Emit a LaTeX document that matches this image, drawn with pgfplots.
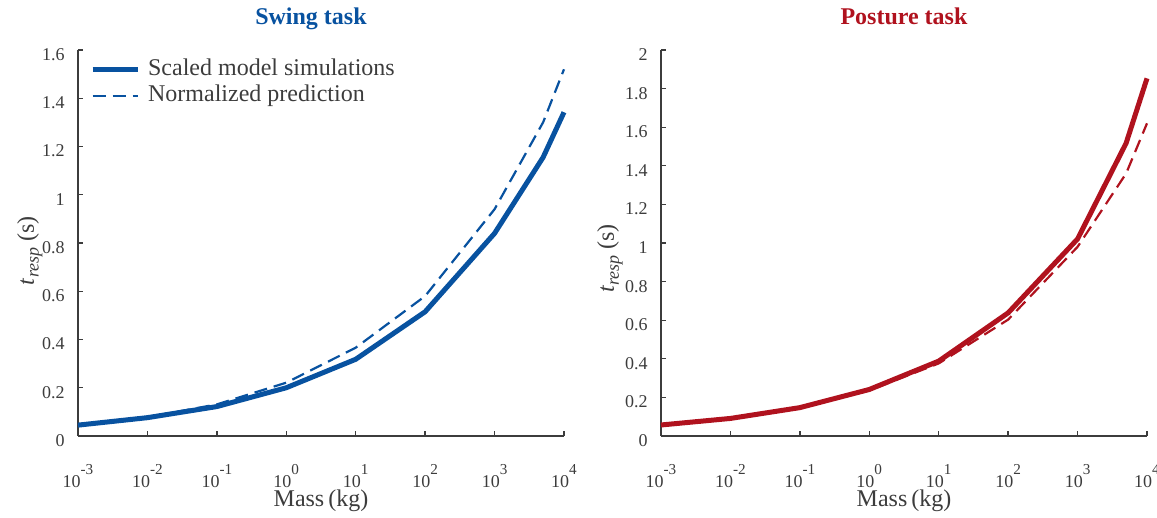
\documentclass[border=0pt]{standalone}
\usepackage{pgfplots}
\pgfplotsset{compat=1.18}
\usepackage{fontspec}
\setmainfont{Liberation Serif}

\definecolor{swingblue}{RGB}{8,82,160}
\definecolor{posturered}{RGB}{176,18,30}
\definecolor{axisgray}{RGB}{60,60,60}

% decade tick label: 10 with a raised exponent
\newcommand{\dec}[1]{10\raisebox{6.3pt}{\fontsize{7.6}{7.6}\selectfont #1}}
% response time label
\newcommand{\tresp}{\textit{t}\raisebox{-2.4pt}{\fontsize{9}{9}\selectfont\textit{resp}} (s)}

\begin{document}
\begin{tikzpicture}
\useasboundingbox (-39pt,-41pt) rectangle (539.5pt,218pt);

% Swing task
\begin{axis}[
  scale only axis, width=243pt, height=193pt,
  xmode=log, xmin=1e-3, xmax=1e4, ymin=0, ymax=1.6,
  clip=false,
  axis x line*=bottom, axis y line*=left,
  axis line style={axisgray, line width=0.65pt},
  tick style={axisgray, line width=0.65pt},
  tick align=inside, major tick length=2.5pt,
  xminorticks=false,
  xtick={1e-3,1e-2,1e-1,1,1e1,1e2,1e3,1e4},
  xticklabels={\dec{-3},\dec{-2},\dec{-1},\dec{0},\dec{1},\dec{2},\dec{3},\dec{4}},
  ytick={0,0.2,0.4,0.6,0.8,1,1.2,1.4,1.6},
  xticklabel style={anchor=north, inner sep=0pt, yshift=-14pt,
    font=\fontsize{9}{9}\selectfont, text=axisgray},
  yticklabel style={anchor=east, inner sep=0pt, xshift=-6.5pt, yshift=-2.3pt,
    font=\fontsize{9}{9}\selectfont, text=axisgray,
    /pgf/number format/assume math mode=true},
  xlabel={Mass\,(kg)},
  ylabel={\tresp},
  xlabel style={at={(axis description cs:0.5,0)}, anchor=base, yshift=-35.5pt,
    font=\fontsize{12}{12}\selectfont, text=axisgray},
  ylabel style={at={(axis description cs:-0.099,0.48)}, anchor=center,
    font=\fontsize{12}{12}\selectfont, text=axisgray},
  title={Swing task},
  title style={at={(axis description cs:0.5,1)}, anchor=base, yshift=6.5pt,
    xshift=-5pt, font=\bfseries\fontsize{12}{12}\selectfont, text=swingblue},
  legend style={draw=none, fill=none, at={(axis description cs:0.025,0.98)},
    anchor=north west, font=\fontsize{12}{12}\selectfont, text=axisgray,
    inner sep=0pt, outer sep=0pt, row sep=1pt, column sep=4pt,
    nodes={inner sep=0pt, text height=9pt, text depth=3pt}},
  legend cell align=left,
  legend image code/.code={\draw[#1] (0pt,0pt) -- (22.5pt,0pt);},
]
\addplot[line width=2.5pt, swingblue] coordinates {
  (1e-3,0.045) (1e-2,0.076) (1e-1,0.122) (1,0.200) (1e1,0.318)
  (1e2,0.515) (1e3,0.840) (5e3,1.155) (1e4,1.342)};
\addlegendentry{Scaled model simulations}
\addplot[line width=1.1pt, dash pattern=on 6.5pt off 3.5pt, swingblue] coordinates {
  (1e-3,0.045) (1e-2,0.078) (1e-1,0.131) (1,0.221) (1e1,0.366)
  (1e2,0.580) (1e3,0.940) (5e3,1.300) (1e4,1.520)};
\addlegendentry{Normalized prediction}
\end{axis}

% Posture task
\begin{axis}[
  at={(291.5pt,0pt)}, anchor=south west,
  scale only axis, width=243pt, height=193pt,
  xmode=log, xmin=1e-3, xmax=1e4, ymin=0, ymax=2,
  clip=false,
  axis x line*=bottom, axis y line*=left,
  axis line style={axisgray, line width=0.65pt},
  tick style={axisgray, line width=0.65pt},
  tick align=inside, major tick length=2.5pt,
  xminorticks=false,
  xtick={1e-3,1e-2,1e-1,1,1e1,1e2,1e3,1e4},
  xticklabels={\dec{-3},\dec{-2},\dec{-1},\dec{0},\dec{1},\dec{2},\dec{3},\dec{4}},
  ytick={0,0.2,0.4,0.6,0.8,1,1.2,1.4,1.6,1.8,2},
  xticklabel style={anchor=north, inner sep=0pt, yshift=-14pt,
    font=\fontsize{9}{9}\selectfont, text=axisgray},
  yticklabel style={anchor=east, inner sep=0pt, xshift=-6.5pt, yshift=-2.3pt,
    font=\fontsize{9}{9}\selectfont, text=axisgray,
    /pgf/number format/assume math mode=true},
  xlabel={Mass\,(kg)},
  ylabel={\tresp},
  xlabel style={at={(axis description cs:0.5,0)}, anchor=base, yshift=-35.5pt,
    font=\fontsize{12}{12}\selectfont, text=axisgray},
  ylabel style={at={(axis description cs:-0.105,0.46)}, anchor=center,
    font=\fontsize{12}{12}\selectfont, text=axisgray},
  title={Posture task},
  title style={at={(axis description cs:0.5,1)}, anchor=base, yshift=6.5pt,
    font=\bfseries\fontsize{12}{12}\selectfont, text=posturered},
]
\addplot[line width=2.5pt, posturered] coordinates {
  (1e-3,0.057) (1e-2,0.091) (1e-1,0.147) (1,0.241) (1e1,0.388)
  (1e2,0.638) (1e3,1.021) (5e3,1.517) (1e4,1.853)};
\addplot[line width=1.1pt, dash pattern=on 6.5pt off 3.5pt, posturered] coordinates {
  (1e-3,0.057) (1e-2,0.090) (1e-1,0.145) (1,0.236) (1e1,0.376)
  (1e2,0.603) (1e3,0.980) (5e3,1.360) (1e4,1.620)};
\end{axis}
\end{tikzpicture}
\end{document}
